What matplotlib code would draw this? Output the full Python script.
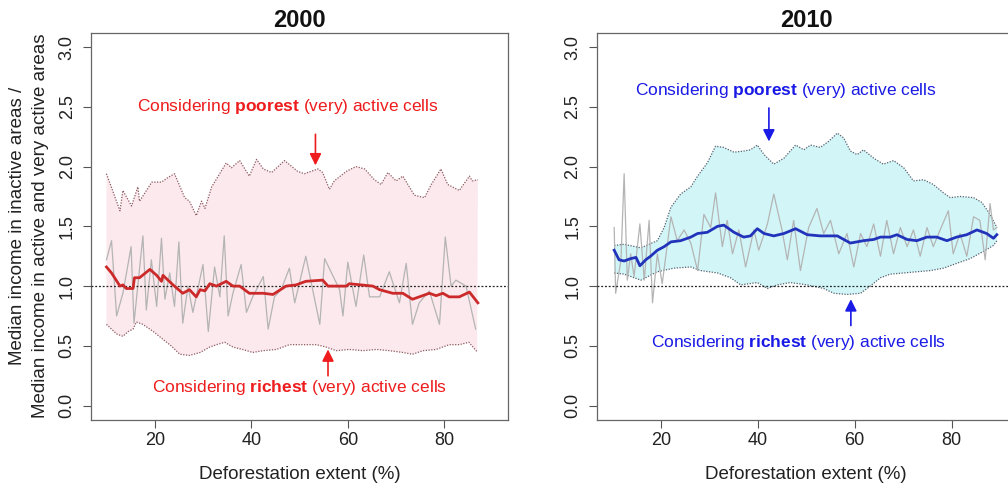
import numpy as np
import matplotlib
matplotlib.use("Agg")
import matplotlib.pyplot as plt

plt.rcParams["font.family"] = ["Liberation Sans", "DejaVu Sans"]
plt.rcParams["mathtext.fontset"] = "custom"
plt.rcParams["mathtext.rm"] = "Liberation Sans"
plt.rcParams["mathtext.bf"] = "Liberation Sans:bold"

# ---------------- 2000 ----------------
up00_x = [10.0, 12.8, 13.4, 15.2, 16.5, 16.85, 19.4, 21.4, 22.8, 24.1, 26.2, 27.2, 28.6, 29.7,
          30.4, 31.8, 34.8, 35.9, 37.6, 39.6, 41.1, 42.5, 44.2, 46.9, 49.6, 51.0, 53.8, 54.8,
          56.2, 57.2, 59.7, 61.7, 63.5, 65.5, 66.9, 68.3, 70.0, 71.4, 73.8, 75.9, 77.3, 79.3,
          80.7, 83.1, 85.2, 85.8, 86.95]
up00_y = [1.94, 1.63, 1.80, 1.67, 1.83, 1.71, 1.87, 1.87, 1.91, 1.94, 1.74, 1.71, 1.59, 1.71,
          1.65, 1.83, 2.03, 1.99, 2.05, 1.92, 2.06, 1.98, 1.95, 2.05, 1.96, 1.94, 1.98, 1.95,
          1.81, 1.88, 1.96, 2.00, 1.98, 1.89, 1.85, 1.95, 1.88, 1.92, 1.76, 1.74, 1.85, 1.98,
          1.85, 1.80, 1.92, 1.88, 1.89]
lo00_x = [10.0, 12.1, 13.4, 14.5, 15.5, 16.2, 17.55, 19.7, 21.7, 23.4, 25.2, 27.2, 29.4, 31.4,
          32.8, 34.5, 36.2, 38.2, 40.3, 42.5, 45.2, 47.9, 50.7, 53.5, 55.5, 57.6, 60.3, 63.1,
          65.9, 68.6, 71.4, 73.4, 75.6, 78.3, 81.0, 83.1, 85.1, 86.8]
lo00_y = [0.68, 0.60, 0.58, 0.62, 0.64, 0.70, 0.68, 0.62, 0.555, 0.50, 0.43, 0.42, 0.445, 0.49,
          0.51, 0.53, 0.49, 0.47, 0.445, 0.46, 0.47, 0.51, 0.51, 0.51, 0.49, 0.46, 0.47, 0.46,
          0.47, 0.46, 0.445, 0.43, 0.46, 0.47, 0.51, 0.51, 0.53, 0.45]
raw00_x = [10.0, 11.05, 12.1, 13.4, 14.5, 15.1, 15.7, 17.55, 18.26, 19.3, 20.4, 21.4, 22.1,
           23.1, 24.1, 25.0, 25.8, 26.9, 27.9, 30.0, 31.1, 32.4, 33.5, 34.4, 35.2, 36.2, 37.9,
           39.0, 40.3, 42.5, 43.5, 44.8, 46.2, 47.9, 49.0, 51.3, 54.2, 55.2, 58.3, 59.0, 60.0,
           61.7, 63.3, 64.5, 66.6, 68.6, 70.7, 72.1, 73.4, 74.8, 76.9, 79.0, 80.2, 81.4, 82.4,
           84.5, 86.5]
raw00_y = [1.22, 1.38, 0.75, 0.94, 1.19, 1.33, 0.69, 1.42, 0.80, 1.22, 0.83, 1.40, 0.89,
           1.11, 0.83, 1.37, 0.69, 1.00, 0.78, 1.18, 0.62, 1.16, 0.91, 1.42, 0.75, 0.94, 1.18,
           0.78, 0.91, 1.08, 0.64, 0.91, 0.97, 1.15, 0.86, 1.25, 0.68, 1.23, 0.97, 0.75, 1.20,
           0.83, 1.26, 0.91, 0.91, 1.12, 0.86, 1.19, 0.68, 0.86, 0.96, 0.68, 1.41, 1.00, 1.05,
           1.00, 0.64]
med00_x = [10.0, 11.05, 12.8, 13.4, 14.1, 15.5, 15.8, 16.85, 19.0, 20.4, 21.4, 21.7, 23.8,
           25.8, 27.2, 28.6, 29.4, 30.4, 31.4, 32.8, 34.8, 36.2, 37.6, 39.6, 42.5, 44.5, 47.2,
           49.3, 51.3, 54.8, 55.9, 59.7, 60.3, 65.2, 66.6, 69.3, 71.4, 73.4, 74.8, 76.9, 78.3,
           79.7, 81.0, 83.1, 85.2, 86.95]
med00_y = [1.16, 1.11, 1.00, 1.01, 0.98, 0.98, 1.07, 1.07, 1.14, 1.09, 1.04, 1.09, 1.01,
           0.94, 0.97, 0.91, 0.97, 0.96, 1.02, 1.00, 1.04, 1.00, 1.00, 0.94, 0.94, 0.93, 1.00,
           1.01, 1.04, 1.05, 1.00, 1.00, 1.02, 1.00, 0.97, 0.94, 0.94, 0.89, 0.91, 0.94, 0.92,
           0.94, 0.91, 0.91, 0.95, 0.86]

# ---------------- 2010 ----------------
up10_x = [10.4, 12.45, 15.9, 19.3, 20.7, 22.1, 24.1, 26.2, 27.6, 29.6, 31.3, 33.0, 35.1, 37.1,
          38.5, 39.9, 41.3, 43.3, 45.4, 47.8, 49.5, 50.9, 52.9, 54.6, 56.4, 57.7, 59.1, 60.5,
          61.8, 63.9, 65.9, 68.0, 70.1, 72.1, 74.2, 76.2, 78.3, 79.7, 81.7, 84.5, 86.2, 87.9,
          89.3]
up10_y = [1.34, 1.35, 1.32, 1.38, 1.49, 1.66, 1.77, 1.83, 1.92, 2.03, 2.17, 2.16, 2.12, 2.13,
          2.14, 2.18, 2.10, 2.02, 2.07, 2.18, 2.14, 2.18, 2.16, 2.21, 2.28, 2.24, 2.13, 2.10,
          2.14, 2.07, 2.02, 2.05, 1.99, 1.88, 1.89, 1.85, 1.78, 1.74, 1.75, 1.74, 1.70, 1.60,
          1.49]
lo10_x = [10.4, 12.45, 15.9, 19.3, 22.7, 26.2, 28.2, 31.7, 34.4, 36.5, 39.9, 42.0, 44.0, 46.7,
          50.2, 53.6, 55.7, 58.4, 61.2, 63.2, 65.3, 67.3, 70.1, 72.8, 75.6, 78.3, 81.0, 83.8,
          86.5, 88.6, 89.3]
lo10_y = [1.11, 1.10, 1.05, 1.12, 1.15, 1.16, 1.13, 1.11, 1.07, 1.01, 1.03, 0.98, 1.01, 1.03,
          1.01, 0.98, 0.94, 0.93, 0.94, 1.00, 1.07, 1.10, 1.11, 1.12, 1.13, 1.15, 1.19, 1.23,
          1.29, 1.34, 1.38]
raw10_x = [10.4, 10.7, 11.8, 12.45, 13.1, 13.8, 14.5, 15.7, 16.6, 17.6, 18.3, 19.3, 20.3,
           22.1, 23.4, 24.8, 26.2, 27.6, 28.9, 30.3, 31.3, 32.7, 33.7, 34.8, 36.1, 37.5, 39.2,
           40.2, 42.0, 43.3, 45.0, 46.1, 47.4, 48.8, 50.5, 52.2, 53.6, 55.0, 56.7, 58.4, 59.8,
           61.2, 62.5, 63.9, 65.3, 66.6, 68.0, 69.4, 70.8, 72.1, 73.5, 74.9, 76.2, 77.6, 79.3,
           80.3, 81.7, 83.1, 84.5, 85.8, 86.9, 87.9, 88.6, 89.3]
raw10_y = [1.49, 0.94, 1.22, 1.94, 1.05, 1.27, 1.08, 1.52, 1.05, 1.55, 0.86, 1.27, 1.02,
           1.58, 1.38, 1.47, 1.36, 1.13, 1.60, 1.49, 1.78, 1.33, 1.55, 1.27, 1.47, 1.16, 1.47,
           1.30, 1.52, 1.77, 1.47, 1.22, 1.55, 1.13, 1.49, 1.65, 1.44, 1.55, 1.27, 1.44, 1.16,
           1.44, 1.33, 1.52, 1.25, 1.55, 1.27, 1.49, 1.33, 1.47, 1.25, 1.49, 1.33, 1.47, 1.63,
           1.27, 1.44, 1.25, 1.58, 1.55, 1.22, 1.69, 1.47, 1.49]
med10_x = [10.4, 11.4, 12.45, 13.8, 14.9, 15.7, 16.9, 17.9, 19.3, 20.7, 22.1, 24.1, 26.2, 27.6,
           29.6, 31.7, 33.0, 35.1, 37.1, 38.5, 39.9, 41.3, 43.3, 45.4, 47.8, 50.2, 52.9, 56.4,
           59.1, 61.8, 63.9, 65.3, 67.3, 68.7, 70.8, 72.8, 74.9, 76.9, 79.0, 81.0, 83.1, 85.2,
           87.2, 88.6, 89.3]
med10_y = [1.30, 1.22, 1.21, 1.23, 1.24, 1.17, 1.22, 1.25, 1.30, 1.33, 1.37, 1.38, 1.41, 1.44,
           1.45, 1.50, 1.51, 1.45, 1.41, 1.42, 1.48, 1.44, 1.42, 1.44, 1.48, 1.43, 1.42, 1.42,
           1.36, 1.38, 1.39, 1.41, 1.41, 1.43, 1.39, 1.38, 1.41, 1.41, 1.38, 1.41, 1.43, 1.47,
           1.44, 1.40, 1.43]

xticks = [20, 40, 60, 80]
yticks = [0.0, 0.5, 1.0, 1.5, 2.0, 2.5, 3.0]
titles = ["2000", "2010"]

fig = plt.figure(figsize=(10.08, 4.87), dpi=100)
ax1 = fig.add_axes([0.0903, 0.1376, 0.4137, 0.7953])
ax2 = fig.add_axes([0.5920, 0.1376, 0.4157, 0.7953])

panels = [
    (ax1, up00_x, up00_y, lo00_x, lo00_y, raw00_x, raw00_y, med00_x, med00_y,
     "#fbe9ee", "#8c5a5e", "#cc2a2a", "#ee1c1c"),
    (ax2, up10_x, up10_y, lo10_x, lo10_y, raw10_x, raw10_y, med10_x, med10_y,
     "#d2f6f8", "#56606e", "#2233bb", "#1a1ae6"),
]

for i, (ax, ux, uy, lx, ly, rx, ry, mx, my, fillc, bandc, linec, txtc) in enumerate(panels):
    # envelope between poorest and richest cells
    ax.fill(np.concatenate([ux, lx[::-1]]), np.concatenate([uy, ly[::-1]]),
            color=fillc, lw=0, zorder=1)
    ax.plot(ux, uy, ls=(0, (1, 1.2)), color=bandc, lw=0.9, zorder=2)
    ax.plot(lx, ly, ls=(0, (1, 1.2)), color=bandc, lw=0.9, zorder=2)
    ax.plot(rx, ry, color="#b4b4b4", lw=0.9, zorder=3)
    ax.axhline(1.0, color="#222222", ls=(0, (1.5, 1.5)), lw=0.9, zorder=4)
    ax.plot(mx, my, color=linec, lw=2.0, zorder=5)

    ax.set_xlim(6.8, 93.2)
    ax.set_ylim(-0.12, 3.12)
    ax.set_xticks(xticks)
    ax.set_yticks(yticks)
    ax.set_yticklabels([f"{v:.1f}" for v in yticks], rotation=90, va="center")
    ax.tick_params(axis="both", direction="out", length=6, width=0.8, color="#555555",
                   labelsize=13, labelcolor="#222222")
    ax.tick_params(axis="x", pad=3)
    ax.tick_params(axis="y", pad=5)
    for s in ax.spines.values():
        s.set_color("#666666")
        s.set_linewidth(0.9)
    ax.set_title(titles[i], fontsize=17, fontweight="bold", pad=4, color="#111111")
    ax.set_xlabel("Deforestation extent (%)", fontsize=13.5, labelpad=12, color="#222222")

# annotations
ax1.text(47.5, 2.50, r"Considering $\bf{poorest}$ (very) active cells", color="#ee1c1c",
         fontsize=12.5, ha="center", va="center")
ax1.annotate("", xy=(53.3, 2.01), xytext=(53.3, 2.27),
             arrowprops=dict(arrowstyle="-|>,head_length=0.7,head_width=0.35",
                             color="#ee1c1c", lw=1.2, shrinkA=0, shrinkB=0))
ax1.text(49.9, 0.15, r"Considering $\bf{richest}$ (very) active cells", color="#ee1c1c",
         fontsize=12.5, ha="center", va="center")
ax1.annotate("", xy=(55.9, 0.47), xytext=(55.9, 0.25),
             arrowprops=dict(arrowstyle="-|>,head_length=0.7,head_width=0.35",
                             color="#ee1c1c", lw=1.2, shrinkA=0, shrinkB=0))

ax2.text(45.7, 2.64, r"Considering $\bf{poorest}$ (very) active cells", color="#1a1ae6",
         fontsize=12.5, ha="center", va="center")
ax2.annotate("", xy=(42.3, 2.21), xytext=(42.3, 2.49),
             arrowprops=dict(arrowstyle="-|>,head_length=0.7,head_width=0.35",
                             color="#1a1ae6", lw=1.2, shrinkA=0, shrinkB=0))
ax2.text(48.5, 0.53, r"Considering $\bf{richest}$ (very) active cells", color="#1a1ae6",
         fontsize=12.5, ha="center", va="center")
ax2.annotate("", xy=(59.2, 0.89), xytext=(59.2, 0.67),
             arrowprops=dict(arrowstyle="-|>,head_length=0.7,head_width=0.35",
                             color="#1a1ae6", lw=1.2, shrinkA=0, shrinkB=0))

fig.text(18 / 1008, 1 - 226 / 487, "Median income in inactive areas /", rotation=90,
         ha="center", va="center", fontsize=13.5, color="#222222")
fig.text(41 / 1008, 1 - 226 / 487, "Median income in active and very active areas",
         rotation=90, ha="center", va="center", fontsize=13.5, color="#222222")

fig.savefig("out.png", dpi=100)
